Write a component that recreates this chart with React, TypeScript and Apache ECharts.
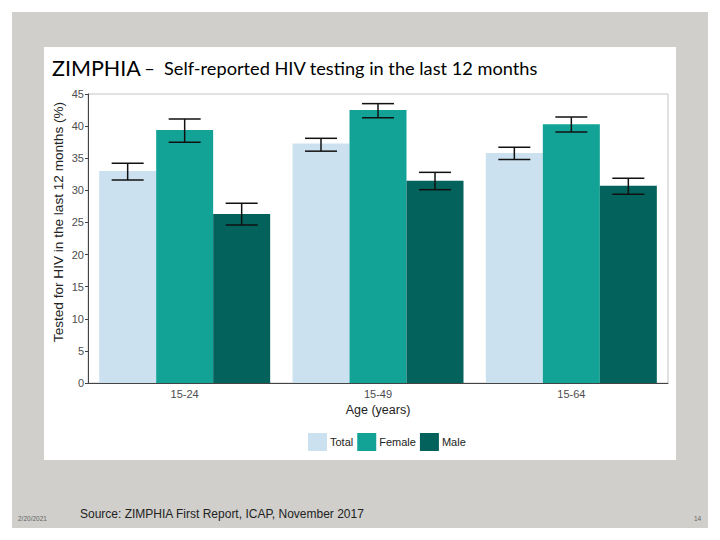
import React, { useEffect, useRef } from "react";
import * as echarts from "echarts";

const categories = ["15-24", "15-49", "15-64"];
const seriesNames = ["Total", "Female", "Male"];
const totalValues = [33.0, 37.3, 35.8];
const femaleValues = [39.4, 42.5, 40.3];
const maleValues = [26.3, 31.5, 30.7];
const totalLow = [31.6, 36.1, 34.8];
const totalHigh = [34.2, 38.1, 36.7];
const femaleLow = [37.5, 41.3, 39.1];
const femaleHigh = [41.1, 43.5, 41.4];
const maleLow = [24.6, 30.1, 29.4];
const maleHigh = [28.0, 32.8, 31.9];
const yTicks = [0, 5, 10, 15, 20, 25, 30, 35, 40, 45];

const COLORS = ["#cbe1ef", "#13a396", "#03625b"];
const BAR_W = 57;
const CAP_W = 32;
const FONT = "'Liberation Sans', Arial, sans-serif";

export default function App() {
  const ref = useRef<HTMLDivElement>(null);
  useEffect(() => {
    if (!ref.current) return;
    const chart = echarts.init(ref.current, null, { renderer: "svg" });
    const values = [totalValues, femaleValues, maleValues];
    const lows = [totalLow, femaleLow, maleLow];
    const highs = [totalHigh, femaleHigh, maleHigh];
    const errData: number[][] = [];
    for (let s = 0; s < 3; s++) {
      for (let c = 0; c < categories.length; c++) {
        errData.push([c, lows[s][c], highs[s][c], s]);
      }
    }
    const option: any = {
      animation: false,
      backgroundColor: "#ffffff",
      textStyle: { fontFamily: FONT },
      graphic: [
        { type: "rect", z: -100, silent: true, shape: { x: 12, y: 12, width: 696, height: 516 }, style: { fill: "#d0cfcb" } },
        { type: "rect", z: -99, silent: true, shape: { x: 44, y: 47, width: 632, height: 413 }, style: { fill: "#ffffff" } },
        {
          type: "text", x: 52, y: 68, z: 10,
          style: {
            text: "{a|ZIMPHIA} {b|–  Self-reported HIV testing in the last 12 months}",
            verticalAlign: "middle",
            rich: {
              a: { fontFamily: "Lato, sans-serif", fontSize: 21.5, fill: "#000" },
              b: { fontFamily: "Lato, sans-serif", fontSize: 18.2, fill: "#000" },
            },
          },
        },
        {
          type: "text", x: 58, y: 222, rotation: Math.PI / 2, z: 10,
          style: { text: "Tested for HIV in the last 12 months (%)", fontFamily: FONT, fontSize: 13.6, fill: "#222", align: "center", verticalAlign: "middle" },
        },
        { type: "text", x: 80, y: 514, style: { text: "Source: ZIMPHIA First Report, ICAP, November 2017", fontFamily: FONT, fontSize: 12, fill: "#222", verticalAlign: "middle" } },
        { type: "text", x: 18, y: 518, style: { text: "2/20/2021", fontFamily: FONT, fontSize: 6.5, fill: "#666", verticalAlign: "middle" } },
        { type: "text", x: 694, y: 518, style: { text: "14", fontFamily: FONT, fontSize: 6.5, fill: "#666", verticalAlign: "middle" } },
      ],
      legend: {
        data: seriesNames,
        left: 303,
        top: 428,
        icon: "rect",
        itemWidth: 19,
        itemHeight: 18,
        itemGap: 4,
        textStyle: { fontFamily: FONT, fontSize: 11, color: "#222", padding: [0, 0, 0, -2] },
      },
      grid: {
        left: 88,
        right: 52,
        top: 94,
        bottom: 157,
        show: true,
        borderColor: "#c4c4c4",
        borderWidth: 1,
        backgroundColor: "transparent",
      },
      xAxis: {
        type: "category",
        data: categories,
        name: "Age (years)",
        nameLocation: "middle",
        nameGap: 20,
        nameTextStyle: { fontFamily: FONT, fontSize: 12.5, color: "#222" },
        axisLine: { lineStyle: { color: "#444", width: 1 } },
        axisTick: { alignWithLabel: true, length: 3, lineStyle: { color: "#444" } },
        axisLabel: { fontFamily: FONT, fontSize: 11, color: "#4d4d4d", margin: 5 },
      },
      yAxis: {
        type: "value",
        min: yTicks[0],
        max: yTicks[yTicks.length - 1],
        interval: 5,
        axisLine: { show: true, lineStyle: { color: "#444", width: 1 } },
        axisTick: { show: true, length: 3, lineStyle: { color: "#444" } },
        axisLabel: { fontFamily: FONT, fontSize: 11, color: "#4d4d4d", margin: 4 },
        splitLine: { show: false },
      },
      series: [
        ...seriesNames.map((name, i) => ({
          name,
          type: "bar",
          data: values[i],
          barWidth: BAR_W,
          barGap: "0%",
          itemStyle: { color: COLORS[i] },
        })),
        {
          type: "custom",
          name: "errors",
          data: errData,
          encode: { x: 0, y: [1, 2] },
          z: 5,
          renderItem: (params: any, api: any) => {
            const c = api.value(0);
            const s = api.value(3);
            const lo = api.coord([c, api.value(1)]);
            const hi = api.coord([c, api.value(2)]);
            const x = lo[0] + (s - 1) * BAR_W;
            const style = { stroke: "#111", lineWidth: 1.5 };
            return {
              type: "group",
              children: [
                { type: "line", shape: { x1: x, y1: lo[1], x2: x, y2: hi[1] }, style },
                { type: "line", shape: { x1: x - CAP_W / 2, y1: lo[1], x2: x + CAP_W / 2, y2: lo[1] }, style },
                { type: "line", shape: { x1: x - CAP_W / 2, y1: hi[1], x2: x + CAP_W / 2, y2: hi[1] }, style },
              ],
            };
          },
        },
      ],
    };
    chart.setOption(option);
    return () => chart.dispose();
  }, []);
  return (
    <div
      ref={ref}
      style={{ position: "absolute", left: 0, top: 0, width: 720, height: 540 }}
    />
  );
}
